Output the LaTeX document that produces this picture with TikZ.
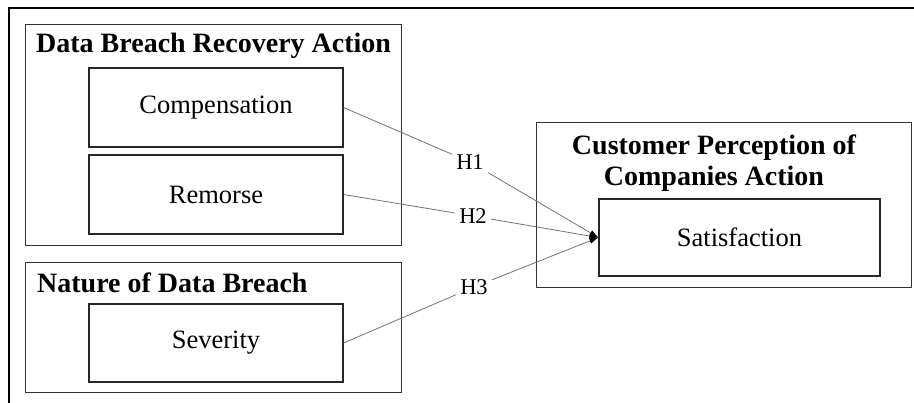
\documentclass[tikz,border=0pt]{standalone}
\usepackage{fontspec}
\setmainfont{Liberation Serif}
\usetikzlibrary{arrows.meta}
\begin{document}
\begin{tikzpicture}[x=1pt,y=-1pt,
  every node/.style={font=\fontsize{26.5}{30}\selectfont},
  outerbox/.style={draw=black!80, line width=1.4pt, anchor=north west, inner sep=0pt},
  innerbox/.style={draw=black!85, line width=1.2pt, inner sep=0pt},
  title/.style={font=\fontsize{28}{31}\selectfont\bfseries, inner sep=0pt},
  hlabel/.style={inner sep=4pt, fill=white, font=\fontsize{22.5}{27}\selectfont},
  link/.style={draw=black!55, line width=0.8pt},
  arrowlink/.style={link, -{Latex[length=9pt,width=6pt,color=black]}}
]
\useasboundingbox (0,0) rectangle (914,403);
% outer frame (only top and left are visible)
\coordinate (frameTL) at (9,8);
\coordinate (frameTR) at (914,8);
\coordinate (frameBL) at (9,403);
\draw[line width=1.6pt, black] (frameTR) -- (frameTL) -- (frameBL);

% group boxes
\node[outerbox, minimum width=376pt, minimum height=221pt] (recovery) at (25,24) {};
\node[outerbox, minimum width=376pt, minimum height=130pt] (nature) at (25,262) {};
\node[outerbox, minimum width=375pt, minimum height=165pt] (customer) at (536,122) {};

% titles
\node[title, anchor=west] (t1) at (36,46) {Data Breach Recovery Action};
\node[title, anchor=west] (t2) at (37,283) {Nature of Data Breach};
\node[title, align=center] (t3) at (714,163) {Customer Perception of\\Companies Action};

% inner boxes
\node[innerbox, minimum width=254pt, minimum height=79pt] (comp) at (216,107.5) {Compensation};
\node[innerbox, minimum width=254pt, minimum height=79pt] (rem) at (216,194.5) {Remorse};
\node[innerbox, minimum width=254pt, minimum height=78pt] (sev) at (216,343) {Severity};
\node[innerbox, minimum width=281pt, minimum height=77pt] (sat) at (739.5,237.5) {Satisfaction};

% hypothesis labels
\node[hlabel] (h1) at (470,162) {H1};
\node[hlabel] (h2) at (473,216) {H2};
\node[hlabel] (h3) at (474,287) {H3};

% connectors
\draw[link] (comp.east) -- (h1);
\draw[link] (rem.east) -- (h2);
\draw[link] (sev.east) -- (h3);
\draw[arrowlink] (h1) -- (sat.west);
\draw[arrowlink] (h2) -- (sat.west);
\draw[arrowlink] (h3) -- (sat.west);
\end{tikzpicture}
\end{document}
